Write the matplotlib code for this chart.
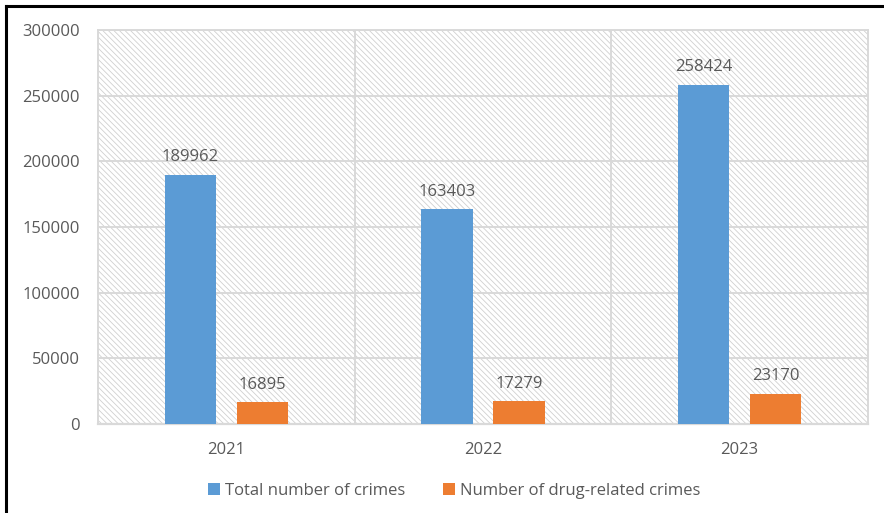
import matplotlib
matplotlib.use("Agg")
import matplotlib.pyplot as plt
from matplotlib.lines import Line2D
from matplotlib.patches import Rectangle
import numpy as np

years = ["2021", "2022", "2023"]
total_crimes = [189962, 163403, 258424]
drug_crimes = [16895, 17279, 23170]
yticks = [0, 50000, 100000, 150000, 200000, 250000, 300000]

blue = "#5b9bd5"
orange = "#ed7d31"
text_gray = "#595959"
grid_gray = "#d9d9d9"

plt.rcParams["font.family"] = ["Open Sans", "DejaVu Sans"]
plt.rcParams["hatch.color"] = "#d0d0d0"
plt.rcParams["hatch.linewidth"] = 0.6

fig = plt.figure(figsize=(8.84, 5.13), dpi=100)
ax = fig.add_axes([98 / 884, 1 - 424 / 513, 770 / 884, 394 / 513])

x = np.arange(len(years))
w = 0.2
gap = 0.08
off = (w + gap) / 2

ax.set_xlim(-0.5, len(years) - 0.5)
ax.set_ylim(0, 300000)

# hatched plot background
ax.add_patch(Rectangle((0, 0), 1, 1, transform=ax.transAxes, facecolor="white",
                       edgecolor="#d0d0d0", hatch="\\" * 6, linewidth=0, zorder=0))

for yv in yticks[1:]:
    ax.axhline(yv, color=grid_gray, linewidth=1.4, zorder=1)
for xv in [0.5, 1.5]:
    ax.axvline(xv, color=grid_gray, linewidth=1.4, zorder=1)

b1 = ax.bar(x - off, total_crimes, w, color=blue, zorder=3, label="Total number of crimes")
b2 = ax.bar(x + off, drug_crimes, w, color=orange, zorder=3, label="Number of drug-related crimes")

fs = 12
for xi, v in zip(x - off, total_crimes):
    ax.text(xi, v + 7000, str(v), ha="center", va="bottom", fontsize=fs, color=text_gray)
for xi, v in zip(x + off, drug_crimes):
    ax.text(xi, v + 7000, str(v), ha="center", va="bottom", fontsize=fs, color=text_gray)

ax.set_xticks(x)
ax.set_xticklabels(years)
ax.set_yticks(yticks)
ax.set_yticklabels([str(t) for t in yticks])
ax.tick_params(axis="both", length=0, labelsize=fs, colors=text_gray)
ax.tick_params(axis="x", pad=13)
ax.tick_params(axis="y", pad=13)

for side in ["top", "right", "left"]:
    ax.spines[side].set_color(grid_gray)
    ax.spines[side].set_linewidth(1.4)
ax.spines["bottom"].set_color(grid_gray)
ax.spines["bottom"].set_linewidth(1.6)

ax.legend(handles=[b1, b2], loc="center", bbox_to_anchor=(454 / 884, 1 - 491 / 513),
          bbox_transform=fig.transFigure, ncol=2, frameon=False, fontsize=fs,
          labelcolor=text_gray, handlelength=0.7, handleheight=0.7,
          handletextpad=0.3, columnspacing=2.3)

# outer frame lines
fig.add_artist(Line2D([5.5 / 884, 5.5 / 884], [0, 1 - 5.5 / 513], color="black",
                      linewidth=2.2, transform=fig.transFigure))
fig.add_artist(Line2D([5.5 / 884, 1], [1 - 5.5 / 513, 1 - 5.5 / 513], color="black",
                      linewidth=2.2, transform=fig.transFigure))

fig.savefig("out.png", dpi=100)
